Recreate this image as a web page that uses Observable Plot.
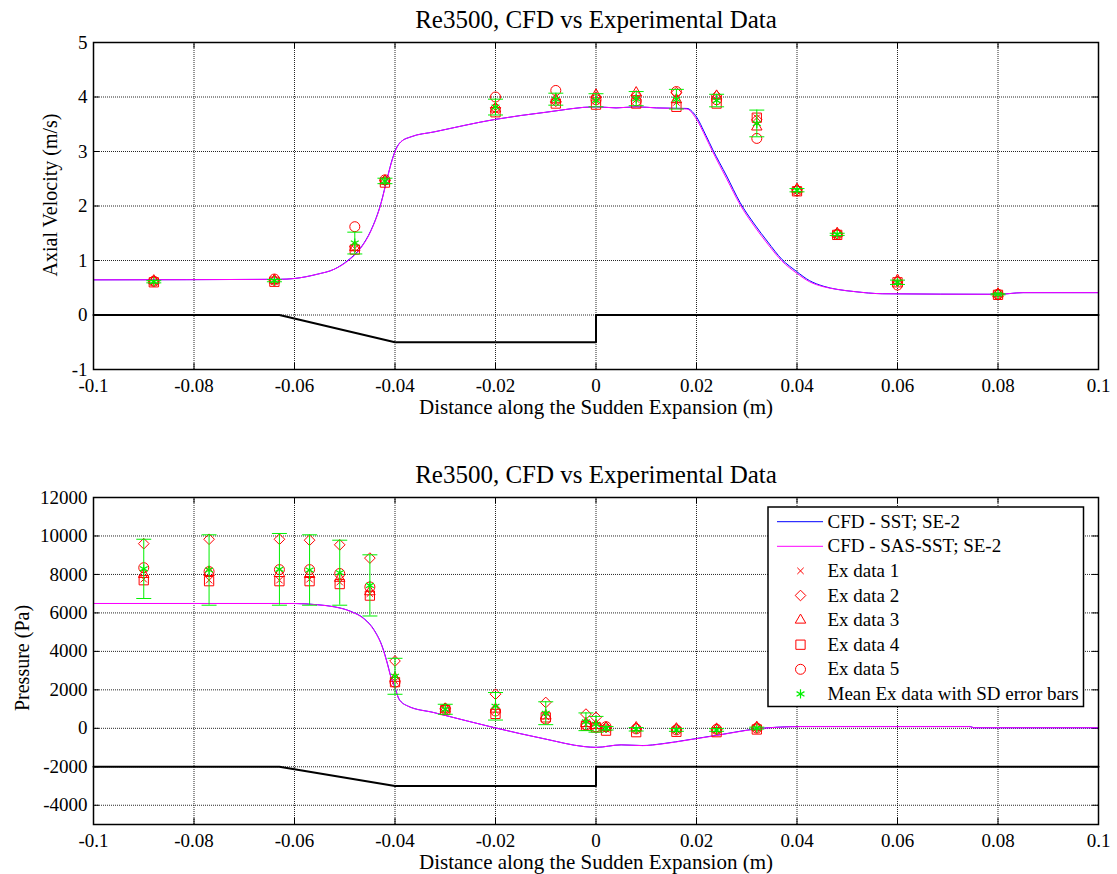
<!DOCTYPE html>
<html>
<head>
<meta charset="utf-8">
<script src="https://cdn.jsdelivr.net/npm/d3@7"></script>
<script src="https://cdn.jsdelivr.net/npm/@observablehq/plot@0.6"></script>
<style>
  body { margin: 0; background: #fff; }
  #fig { position: relative; width: 1117px; height: 874px; font-family: "Liberation Serif", "Times New Roman", serif; }
  #fig > svg { display: block; }
</style>
</head>
<body>
<div id="fig"></div>
<script>
// ---- shared axis definitions ----
const xTicks = [-0.1, -0.08, -0.06, -0.04, -0.02, 0, 0.02, 0.04, 0.06, 0.08, 0.1];
const xTickLabels = ["-0.1", "-0.08", "-0.06", "-0.04", "-0.02", "0", "0.02", "0.04", "0.06", "0.08", "0.1"];

const velTicks = [-1, 0, 1, 2, 3, 4, 5];
const velTickLabels = ["-1", "0", "1", "2", "3", "4", "5"];
const presTicks = [-4000, -2000, 0, 2000, 4000, 6000, 8000, 10000, 12000];
const presTickLabels = ["-4000", "-2000", "0", "2000", "4000", "6000", "8000", "10000", "12000"];

const titleText = "Re3500, CFD vs Experimental Data";
const xLabelText = "Distance along the Sudden Expansion (m)";

// ---- sudden-expansion wall outline (drawn under the data) ----
const geomX = [-0.1, -0.063, -0.04, 0, 0, 0.1];
const geomVel = [0, 0, -0.5, -0.5, 0, 0];
const geomPres = [-2000, -2000, -3000, -3000, -2000, -2000];

// ---- axial velocity: CFD profiles ----
const velCfdX = [-0.1, -0.063, -0.06, -0.0554, -0.0521, -0.0494, -0.0467, -0.0448, -0.0428, -0.0415,
  -0.0405, -0.0398, -0.0388, -0.0368, -0.0322, -0.02, -0.01, 0, 0.004, 0.008,
  0.012, 0.0181, 0.0198, 0.0219, 0.0232, 0.026, 0.0287, 0.0315, 0.0342, 0.037,
  0.0399, 0.0425, 0.0452, 0.048, 0.0514, 0.057, 0.08, 0.085, 0.1];
const velSST = [0.645, 0.655, 0.67, 0.75, 0.84, 1.0, 1.25, 1.55, 2.05, 2.53,
  2.87, 3.05, 3.18, 3.27, 3.36, 3.59, 3.72, 3.82, 3.80, 3.82,
  3.80, 3.79, 3.66, 3.29, 3.04, 2.55, 2.06, 1.67, 1.34, 1.02,
  0.80, 0.63, 0.53, 0.47, 0.43, 0.39, 0.38, 0.41, 0.41];
const velSAS = [0.645, 0.655, 0.67, 0.75, 0.84, 0.99, 1.24, 1.54, 2.04, 2.52,
  2.86, 3.04, 3.18, 3.27, 3.36, 3.59, 3.72, 3.82, 3.80, 3.82,
  3.80, 3.78, 3.62, 3.25, 3.0, 2.50, 2.02, 1.63, 1.30, 0.99,
  0.77, 0.61, 0.52, 0.47, 0.43, 0.39, 0.38, 0.41, 0.41];

// ---- axial velocity: experimental runs ----
const velStations = [-0.088, -0.064, -0.048, -0.042, -0.02, -0.008, 0, 0.008, 0.016, 0.024, 0.032, 0.04, 0.048, 0.06, 0.08];
const velEx1 = [0.60, 0.61, 1.22, 2.45, 3.75, 3.90, 3.93, 3.95, 3.90, 3.95, 3.62, 2.28, 1.47, 0.60, 0.38];
const velEx2 = [0.62, 0.63, 1.25, 2.47, 3.80, 3.92, 4.00, 4.02, 4.08, 4.02, 3.58, 2.30, 1.49, 0.62, 0.38];
const velEx3 = [0.63, 0.64, 1.24, 2.46, 3.78, 3.95, 4.04, 4.08, 3.95, 4.02, 3.45, 2.31, 1.50, 0.64, 0.39];
const velEx4 = [0.60, 0.61, 1.20, 2.43, 3.72, 3.88, 3.86, 3.88, 3.82, 3.88, 3.62, 2.27, 1.47, 0.60, 0.37];
const velEx5 = [0.62, 0.66, 1.62, 2.48, 4.00, 4.12, 3.95, 3.93, 4.10, 3.95, 3.24, 2.28, 1.48, 0.55, 0.38];
const velMean = [0.61, 0.63, 1.32, 2.46, 3.815, 3.96, 3.94, 3.97, 3.96, 3.935, 3.515, 2.29, 1.48, 0.60, 0.38];
const velSD = [0.02, 0.02, 0.20, 0.05, 0.145, 0.11, 0.12, 0.13, 0.18, 0.115, 0.245, 0.03, 0.02, 0.04, 0.01];

// ---- pressure: CFD profiles ----
const presCfdX = [-0.1, -0.06, -0.0554, -0.0521, -0.0488, -0.0461, -0.0441, -0.0425, -0.0415, -0.0408,
  -0.04, -0.0392, -0.0375, -0.0322, -0.0256, -0.02, -0.0102, -0.0023, 0, 0.005,
  0.0093, 0.0132, 0.0185, 0.0238, 0.0285, 0.0318, 0.0358, 0.0406, 0.0744, 0.0752, 0.1];
const presSST = [6490, 6490, 6425, 6320, 6080, 5690, 5090, 4230, 3360, 2660,
  2130, 1520, 1165, 815, 380, 20, -550, -950, -990, -860,
  -895, -800, -590, -370, -160, -30, 55, 95, 95, 30, 30];
const presSAS = [6490, 6490, 6420, 6315, 6070, 5670, 5065, 4200, 3330, 2640,
  2115, 1510, 1160, 815, 380, 20, -550, -950, -990, -860,
  -900, -810, -600, -380, -170, -35, 50, 90, 90, 30, 30];

// ---- pressure: experimental runs ----
const presStations = [-0.09, -0.077, -0.063, -0.057, -0.051, -0.045, -0.04, -0.03, -0.02, -0.01, -0.002, 0, 0.002, 0.008, 0.016, 0.024, 0.032];
const presEx1 = [7750, 7700, 7700, 7750, 7600, 7000, 2450, 1000, 900, 600, 200, 100, -50, -60, -90, -100, 0];
const presEx2 = [9600, 9830, 9830, 9780, 9540, 8850, 3500, 1050, 1775, 1345, 740, 570, 50, 0, -40, -60, 40];
const presEx3 = [8000, 8100, 8050, 8000, 7800, 7100, 2600, 1000, 1000, 650, 250, 150, 30, 40, -20, -30, 60];
const presEx4 = [7700, 7650, 7650, 7650, 7500, 6900, 2400, 950, 750, 570, 140, 50, -120, -200, -180, -200, -60];
const presEx5 = [8350, 8150, 8250, 8250, 8050, 7350, 2400, 1000, 900, 480, 180, 80, 85, -30, -80, -50, 10];
const presMean = [8290, 8230, 8265, 8230, 8090, 7430, 2705, 990, 1145, 785, 340, 210, 0, -50, -85, -85, 10];
const presSD = [1540, 1830, 1865, 1830, 1690, 1590, 935, 260, 715, 595, 460, 410, 90, 90, 70, 70, 50];

// ---- legend ----
const legendLabels = ["CFD - SST; SE-2", "CFD - SAS-SST; SE-2", "Ex data 1", "Ex data 2", "Ex data 3", "Ex data 4", "Ex data 5", "Mean Ex data with SD error bars"];

// ---- styling ----
const SERIF = "Liberation Serif, Times New Roman, serif";
const BLUE = "#0000ff", MAGENTA = "#ff00ff", RED = "#ff0000", GREEN = "#00f000";
const W = 1117, ML = 93, MR = 19;

// horizontal stroke used as an error-bar cap (half width = r)
const capSymbol = {
  draw(context, size) {
    const r = Math.sqrt(size / Math.PI);
    context.moveTo(-r, 0);
    context.lineTo(r, 0);
  }
};

// red run markers: x, diamond, triangle, square, circle
const runStyles = [
  {symbol: "times", r: 3},
  {symbol: "diamond2", r: 4.8},
  {symbol: "triangle2", r: 5},
  {symbol: "square2", r: 5.9},
  {symbol: "circle", r: 5}
];

function panel(cfg) {
  const frameW = W - ML - MR;
  const frameH = cfg.height - cfg.marginTop - cfg.marginBottom;
  const xLab = new Map(xTicks.map((t, i) => [t, xTickLabels[i]]));
  const yLab = new Map(cfg.yTicks.map((t, i) => [t, cfg.yTickLabels[i]]));

  const cfd = cfg.cfdX.map((x, i) => ({x, sst: cfg.sst[i], sas: cfg.sas[i]}));
  const geom = geomX.map((x, i) => ({x, y: cfg.geomY[i]}));
  const stats = cfg.stations.map((x, i) => ({
    x, mean: cfg.mean[i], lo: cfg.mean[i] - cfg.sd[i], hi: cfg.mean[i] + cfg.sd[i]
  }));
  const runMarks = cfg.runs.map((vals, k) => Plot.dot(
    cfg.stations.map((x, i) => ({x, y: vals[i]})),
    {x: "x", y: "y", symbol: runStyles[k].symbol, r: runStyles[k].r, fill: "none", stroke: RED, strokeWidth: 1}
  ));

  const gridStyle = {stroke: "#000", strokeOpacity: 0.85, strokeDasharray: "1,1", strokeWidth: 1};
  const tickStyle = {stroke: "#000", strokeWidth: 1};

  return Plot.plot({
    width: W,
    height: cfg.height,
    marginLeft: ML,
    marginRight: MR,
    marginTop: cfg.marginTop,
    marginBottom: cfg.marginBottom,
    style: {fontFamily: SERIF, fontSize: "19px", color: "#000", background: "#fff", overflow: "visible"},
    x: {domain: [-0.1, 0.1]},
    y: {domain: cfg.yDomain},
    marks: [
      // dotted grid
      Plot.ruleX(xTicks, gridStyle),
      Plot.ruleY(cfg.yTicks, gridStyle),
      // inward tick marks on all four sides
      Plot.ruleX(xTicks, {...tickStyle, insetTop: frameH - 6}),
      Plot.ruleX(xTicks, {...tickStyle, insetBottom: frameH - 6}),
      Plot.ruleY(cfg.yTicks, {...tickStyle, insetRight: frameW - 6}),
      Plot.ruleY(cfg.yTicks, {...tickStyle, insetLeft: frameW - 6}),
      // CFD profiles
      Plot.line(cfd, {x: "x", y: "sst", stroke: BLUE, strokeWidth: 1, curve: "monotone-x"}),
      Plot.line(cfd, {x: "x", y: "sas", stroke: MAGENTA, strokeWidth: 1, curve: "monotone-x"}),
      // wall outline
      Plot.line(geom, {x: "x", y: "y", stroke: "#000", strokeWidth: 2}),
      // experimental runs
      ...runMarks,
      // mean with SD error bars
      Plot.ruleX(stats, {x: "x", y1: "lo", y2: "hi", stroke: GREEN, strokeWidth: 1}),
      Plot.dot(stats, {x: "x", y: "lo", symbol: capSymbol, r: 7.5, fill: "none", stroke: GREEN, strokeWidth: 1}),
      Plot.dot(stats, {x: "x", y: "hi", symbol: capSymbol, r: 7.5, fill: "none", stroke: GREEN, strokeWidth: 1}),
      Plot.dot(stats, {x: "x", y: "mean", symbol: "asterisk", r: 4.3, stroke: GREEN, strokeWidth: 1.2}),
      // frame and axes
      Plot.frame({stroke: "#000", strokeWidth: 1.5}),
      Plot.axisX({ticks: xTicks, tickFormat: d => xLab.get(d), tickSize: 0, tickPadding: 9, label: null, fontSize: 19}),
      Plot.axisY({ticks: cfg.yTicks, tickFormat: d => yLab.get(d), tickSize: 0, tickPadding: 6, label: null, fontSize: 19}),
      // title and axis labels
      Plot.text([titleText], {text: d => d, frameAnchor: "top", dy: -23, lineAnchor: "middle", fontSize: 25, fill: "#000"}),
      Plot.text([xLabelText], {text: d => d, frameAnchor: "bottom", dy: 37.5, lineAnchor: "middle", fontSize: 21, fill: "#000"}),
      Plot.text([cfg.yLabel], {text: d => d, frameAnchor: "left", dx: cfg.yLabelDx, dy: cfg.yLabelDy, rotate: -90, lineAnchor: "middle", textAnchor: "middle", fontSize: 20, fill: "#000"})
    ]
  });
}

const fig = document.getElementById("fig");

fig.appendChild(panel({
  height: 437, marginTop: 42, marginBottom: 68,
  yDomain: [-1, 5], yTicks: velTicks, yTickLabels: velTickLabels,
  yLabel: "Axial Velocity (m/s)", yLabelDx: -43, yLabelDy: -11,
  cfdX: velCfdX, sst: velSST, sas: velSAS, geomY: geomVel,
  stations: velStations, runs: [velEx1, velEx2, velEx3, velEx4, velEx5],
  mean: velMean, sd: velSD
}));

fig.appendChild(panel({
  height: 437, marginTop: 60, marginBottom: 50,
  yDomain: [-5000, 12000], yTicks: presTicks, yTickLabels: presTickLabels,
  yLabel: "Pressure (Pa)", yLabelDx: -71, yLabelDy: -3,
  cfdX: presCfdX, sst: presSST, sas: presSAS, geomY: geomPres,
  stations: presStations, runs: [presEx1, presEx2, presEx3, presEx4, presEx5],
  mean: presMean, sd: presSD
}));

// ---- legend box over the pressure panel ----
(function drawLegend() {
  const boxW = 318, boxH = 202;
  const svg = d3.create("svg")
    .attr("width", boxW).attr("height", boxH)
    .style("position", "absolute").style("left", "767px").style("top", "506px")
    .style("font-family", SERIF).style("font-size", "19px");
  svg.append("rect")
    .attr("x", 1).attr("y", 1).attr("width", boxW - 2.5).attr("height", boxH - 2.5)
    .attr("fill", "#fff").attr("stroke", "#000").attr("stroke-width", 1.5);

  const symbolOf = {
    times: d3.symbolTimes, diamond2: d3.symbolDiamond2, triangle2: d3.symbolTriangle2,
    square2: d3.symbolSquare2, circle: d3.symbolCircle, asterisk: d3.symbolAsterisk
  };
  const rowY = i => 15.7 + 24.6 * i;
  const lineColors = [BLUE, MAGENTA];

  legendLabels.forEach((label, i) => {
    const y = rowY(i);
    if (i < 2) {
      svg.append("line").attr("x1", 10).attr("x2", 56).attr("y1", y).attr("y2", y)
        .attr("stroke", lineColors[i]).attr("stroke-width", 1);
    } else if (i < 7) {
      const s = runStyles[i - 2];
      svg.append("path")
        .attr("d", d3.symbol(symbolOf[s.symbol], Math.PI * s.r * s.r)())
        .attr("transform", `translate(33.5,${y})`)
        .attr("fill", "none").attr("stroke", RED).attr("stroke-width", 1);
    } else {
      svg.append("path")
        .attr("d", d3.symbol(d3.symbolAsterisk, Math.PI * 4.3 * 4.3)())
        .attr("transform", `translate(33.5,${y})`)
        .attr("fill", "none").attr("stroke", GREEN).attr("stroke-width", 1.2);
    }
    svg.append("text").attr("x", 60.5).attr("y", y).attr("dy", "0.32em")
      .attr("fill", "#000").text(label);
  });
  fig.appendChild(svg.node());
})();
</script>
</body>
</html>
